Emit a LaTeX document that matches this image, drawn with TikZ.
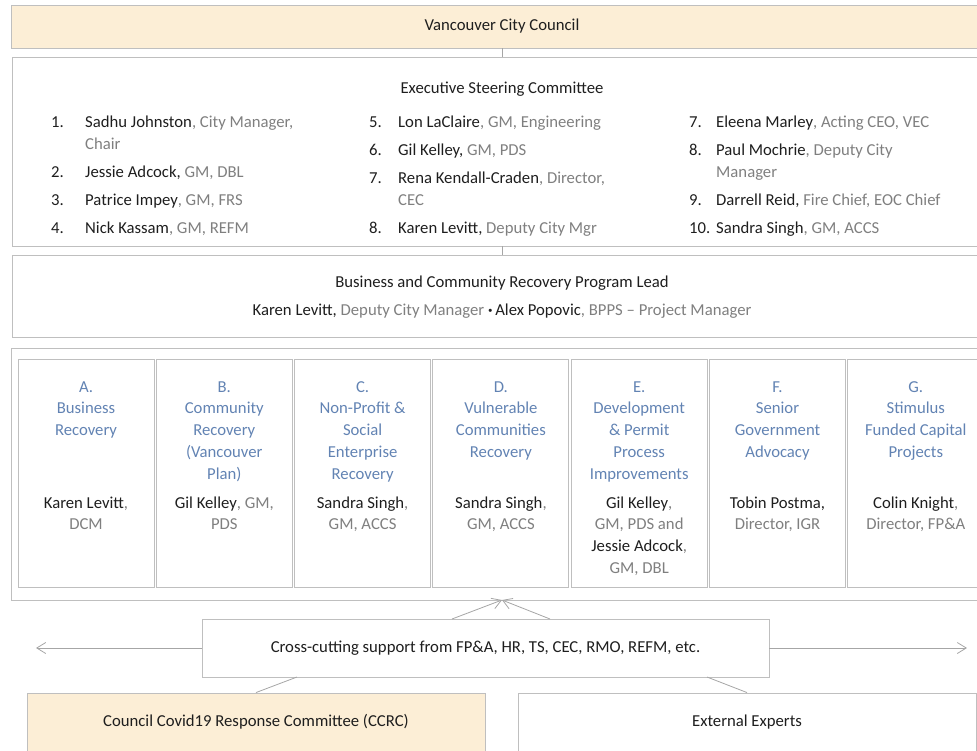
\documentclass[tikz,border=0pt]{standalone}
\usepackage{fontspec}
\setmainfont{Carlito}
\usetikzlibrary{positioning,arrows.meta}
\definecolor{boxline}{HTML}{BFBFBF}
\definecolor{linegray}{HTML}{A6A6A6}
\definecolor{councilfill}{HTML}{FCEED6}
\definecolor{headblue}{HTML}{6283B3}
\definecolor{rolegray}{HTML}{7F7F7F}
\definecolor{namegray}{HTML}{1E1E1E}
\newcommand{\pname}[1]{\textcolor{namegray}{#1}}
\newcommand{\prole}[1]{\textcolor{rolegray}{#1}}

\begin{document}
\begin{tikzpicture}[x=1pt,y=-1pt,
    every node/.style={font=\fontsize{16.7}{21.7}\selectfont,text=namegray,inner sep=0pt},
    framebox/.style={draw=boxline,line width=0.9pt},
    num/.style={anchor=base west},
    % first line (with \strut) sits on the given baseline
    escitem/.style={anchor=north west,yshift=15.4pt,align=left,font=\fontsize{16.7}{22}\selectfont},
    colhead/.style={anchor=north,yshift=15.19pt,align=center,text=headblue},
    collead/.style={anchor=north,yshift=15.19pt,align=center},
    conn/.style={draw=linegray,line width=0.8pt},
    barb/.style={-{Straight Barb[length=9pt,width=11pt]}}]
    \useasboundingbox (0,0) rectangle (977,750);

    \node[framebox,fill=councilfill,minimum width=982pt,minimum height=43pt] (council) at (502,26.5) {Vancouver City Council};
    \node[framebox,minimum width=980pt,minimum height=189pt] (exec) at (502,151.5) {};
    \node[framebox,minimum width=980pt,minimum height=82pt] (lead) at (502,296) {};
    \node[framebox,minimum width=982pt,minimum height=252pt] (groups) at (502,474) {};
    \draw[conn] (council.south) -- (exec.north);
    \draw[conn] (exec.south) -- (lead.north);

    % steering committee
    \node[anchor=base] (esctitle) at (502,93) {Executive Steering Committee};
    \node[num] at (51,127) {1.};
    \node[escitem] (sadhu) at (85,127) {\strut\pname{Sadhu Johnston}\prole{, City Manager,}\\\prole{Chair}};
    \node[num] at (51,177) {2.};
    \node[escitem] (jessie) at (85,177) {\strut\pname{Jessie Adcock,} \prole{GM, DBL}};
    \node[num] at (51,205) {3.};
    \node[escitem] (patrice) at (85,205) {\strut\pname{Patrice Impey}\prole{, GM, FRS}};
    \node[num] at (51,233) {4.};
    \node[escitem] (nick) at (85,233) {\strut\pname{Nick Kassam}\prole{, GM, REFM}};
    \node[num] at (369,127) {5.};
    \node[escitem] (lon) at (398,127) {\strut\pname{Lon LaClaire}\prole{, GM, Engineering}};
    \node[num] at (369,155) {6.};
    \node[escitem] (gil) at (398,155) {\strut\pname{Gil Kelley,} \prole{GM, PDS}};
    \node[num] at (369,183) {7.};
    \node[escitem] (rena) at (398,183) {\strut\pname{Rena Kendall-Craden}\prole{, Director,}\\\prole{CEC}};
    \node[num] at (369,233) {8.};
    \node[escitem] (karen) at (398,233) {\strut\pname{Karen Levitt,} \prole{Deputy City Mgr}};
    \node[num] at (689,127) {7.};
    \node[escitem] (eleena) at (716,127) {\strut\pname{Eleena Marley}\prole{, Acting CEO, VEC}};
    \node[num] at (689,155) {8.};
    \node[escitem] (paul) at (716,155) {\strut\pname{Paul Mochrie}\prole{, Deputy City}\\\prole{Manager}};
    \node[num] at (689,205) {9.};
    \node[escitem] (darrell) at (716,205) {\strut\pname{Darrell Reid,} \prole{Fire Chief, EOC Chief}};
    \node[num] at (689,233) {10.};
    \node[escitem] (sandra) at (716,233) {\strut\pname{Sandra Singh}\prole{, GM, ACCS}};

    % program lead
    \node[anchor=base] (leadtitle) at (502,287) {Business and Community Recovery Program Lead};
    \node[anchor=base] (leadnames) at (502,315) {\pname{Karen Levitt,} \prole{Deputy City Manager} \textbf{·}\,\pname{Alex Popovic}\prole{, BPPS -- Project Manager}};

    % recovery groups
    \foreach \i/\head/\who in {
        0/{A.\\Business\\Recovery}/{\pname{Karen Levitt}\prole{,}\\\prole{DCM}},
        1/{B.\\Community\\Recovery\\(Vancouver\\Plan)}/{\pname{Gil Kelley}\prole{, GM,}\\\prole{PDS}},
        2/{C.\\Non-Profit \&\\Social\\Enterprise\\Recovery}/{\pname{Sandra Singh}\prole{,}\\\prole{GM, ACCS}},
        3/{D.\\Vulnerable\\Communities\\Recovery}/{\pname{Sandra Singh}\prole{,}\\\prole{GM, ACCS}},
        4/{E.\\Development\\\& Permit\\Process\\Improvements}/{\pname{Gil Kelley}\prole{,}\\\prole{GM, PDS and}\\\pname{Jessie Adcock}\prole{,}\\\prole{GM, DBL}},
        5/{F.\\Senior\\Government\\Advocacy}/{\pname{Tobin Postma,}\\\prole{Director, IGR}},
        6/{G.\\Stimulus\\Funded Capital\\Projects}/{\pname{Colin Knight}\prole{,}\\\prole{Director, FP\&A}}}{
        \node[framebox,minimum width=136pt,minimum height=228pt] (group\i) at ({86+138.3*\i},473) {};
        \node[colhead] at ({86+138.3*\i},392) {\strut\head};
        \node[collead] at ({86+138.3*\i},508) {\strut\who};
    }

    % support and committees
    \node[framebox,fill=white,minimum width=567pt,minimum height=58pt] (cross) at (485.5,648) {Cross-cutting support from FP\&A, HR, TS, CEC, RMO, REFM, etc.};
    \node[framebox,fill=councilfill,minimum width=458pt,minimum height=58pt] (ccrc) at (256,722) {Council Covid19 Response Committee (CCRC)};
    \node[framebox,minimum width=458pt,minimum height=58pt] (experts) at (747,722) {External Experts};

    \coordinate (tip) at (502,600);
    \coordinate (upl) at (452,619);
    \coordinate (upr) at (550,619);
    \coordinate (dnl) at (297,677);
    \coordinate (dnr) at (707,677);
    \coordinate (leftend) at (36,648);
    \coordinate (rightend) at (967,648);
    \draw[conn,barb] (upl) -- (tip);
    \draw[conn,barb] (upr) -- (tip);
    \draw[conn] (dnl) -- (ccrc.north);
    \draw[conn] (dnr) -- (experts.north);
    \draw[conn,barb] (cross.west) -- (leftend);
    \draw[conn,barb] (cross.east) -- (rightend);
\end{tikzpicture}
\end{document}
